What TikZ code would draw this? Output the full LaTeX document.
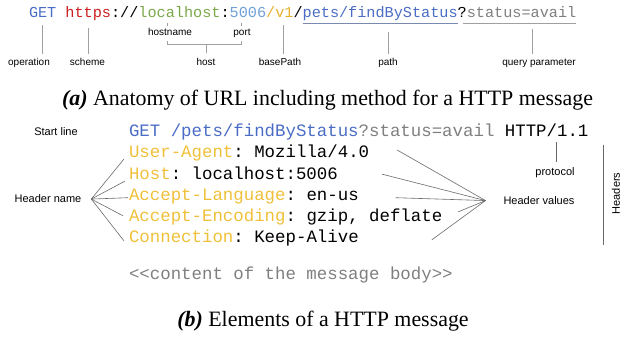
\documentclass[tikz,border=0pt]{standalone}
\usepackage{fontspec}
\setmainfont{Liberation Serif}
\setsansfont{Liberation Sans}
\setmonofont{Liberation Mono}
\definecolor{cblue}{HTML}{4A6CC4}
\definecolor{cred}{HTML}{CC1F1F}
\definecolor{cgreen}{HTML}{7AA84A}
\definecolor{cport}{HTML}{6F9FD8}
\definecolor{cyel}{HTML}{E6B032}
\definecolor{chead}{HTML}{F0C03A}
\definecolor{cgray}{HTML}{7F7F7F}
\definecolor{cline}{HTML}{A0A0A0}
\definecolor{cdark}{HTML}{6A6A6A}
\tikzset{
  url/.style={inner sep=0pt, outer sep=0pt, anchor=base west, font=\fontsize{15.2}{16}\ttfamily},
  msg/.style={inner sep=0pt, outer sep=0pt, anchor=base west, font=\fontsize{17.4}{18}\ttfamily},
  lab/.style={inner sep=0pt, outer sep=0pt, anchor=base, font=\fontsize{10}{12}\sffamily},
  labb/.style={inner sep=0pt, outer sep=0pt, anchor=base, font=\fontsize{11}{13}\sffamily},
  captext/.style={inner sep=0pt, outer sep=0pt, anchor=base, font=\fontsize{21.9}{26}\rmfamily},
  conn/.style={draw=cline, line width=0.8pt},
  hconn/.style={draw=cdark, line width=0.6pt},
}
\begin{document}
\begin{tikzpicture}[x=1pt, y=-1pt]
\useasboundingbox (0,0) rectangle (621,339);
% ---- (a) URL ----
\def\cw{9.12pt}
\node[url, text=cblue] (get) at (29,18) {GET};
\node[url, text=cred] (scheme) at ([xshift=\cw]get.base east) {https};
\node[url] (sep) at (scheme.base east) {://};
\node[url, text=cgreen] (hostname) at (sep.base east) {localhost};
\node[url] (colon) at (hostname.base east) {:};
\node[url, text=cport] (port) at (colon.base east) {5006};
\node[url, text=cyel] (bp) at (port.base east) {/v1};
\node[url] (slash) at (bp.base east) {/};
\node[url, text=cblue] (path) at (slash.base east) {pets/findByStatus};
\node[url] (qm) at (path.base east) {?};
\node[url, text=cgray] (query) at (qm.base east) {status=avail};
% underlines
\draw[draw=cblue!45!cline, line width=1pt] ([yshift=-6pt]path.base west) -- ([yshift=-6pt]path.base east);
\draw[conn, line width=1pt] ([shift={(-4pt,-6pt)}]query.base west) -- ([yshift=-6pt]query.base east);
% labels
\node[lab] (operation) at (29,66) {operation};
\node[lab] (schemel) at (87.5,66) {scheme};
\node[lab] (hostnamel) at (170,36) {hostname};
\node[lab] (portl) at (242,36) {port};
\node[lab] (hostl) at (206,66) {host};
\node[lab] (basepath) at (280,66) {basePath};
\node[lab] (pathl) at (388,66) {path};
\node[lab] (queryl) at (539,66) {query parameter};
% connectors
\draw[conn] (get.south -| 42,0) ++(0,-7pt) coordinate (o1) -- (o1 |- 0,54);
\draw[conn] (scheme.south -| 88,0) ++(0,-7pt) coordinate (s1) -- (s1 |- 0,54);
\draw[conn] (hostname.south -| 167,0) ++(0,-5pt) coordinate (h1) -- (h1 |- 0,26);
\draw[conn] (port.south -| 241,0) ++(0,-5pt) coordinate (p1) -- (p1 |- 0,26);
\draw[conn] (h1 |- 0,41) -- (h1 |- 0,44) -- (p1 |- 0,44) -- (p1 |- 0,41);
\draw[conn] (hostl.north |- 0,44) -- (hostl.north |- 0,53);
\draw[conn] (bp.south -| 283,0) ++(0,-7pt) coordinate (b1) -- (b1 |- 0,54);
\draw[conn] (path.south -| 388,0) ++(0,-11pt) coordinate (pa1) -- (pa1 |- 0,54);
\draw[conn] (query.south -| 532,0) ++(0,-11pt) coordinate (q1) -- (q1 |- 0,54);
\node[captext] (capa) at (327.5,106) {\textbf{\textit{(a)}} Anatomy of URL including method for a HTTP message};
% ---- (b) message ----
\def\mw{10.44pt}
\node[labb] (startl) at (56,136) {Start line};
\node[msg, text=cblue] (sl) at (129,137) {GET /pets/findByStatus};
\node[msg, text=cgray] (slq) at (sl.base east) {?status=avail};
\node[msg] (proto) at ([xshift=\mw]slq.base east) {HTTP/1.1};
\node[msg, text=chead] (hn1) at (129,158) {User-Agent};
\node[msg] (hv1) at (hn1.base east) {: Mozilla/4.0};
\node[msg, text=chead] (hn2) at (129,179.1) {Host};
\node[msg] (hv2) at (hn2.base east) {: localhost:5006};
\node[msg, text=chead] (hn3) at (129,200.2) {Accept-Language};
\node[msg] (hv3) at (hn3.base east) {: en-us};
\node[msg, text=chead] (hn4) at (129,221.3) {Accept-Encoding};
\node[msg] (hv4) at (hn4.base east) {: gzip, deflate};
\node[msg, text=chead] (hn5) at (129,242.4) {Connection};
\node[msg] (hv5) at (hn5.base east) {: Keep-Alive};
\node[msg, text=cgray] (body) at (129,279) {<<content of the message body>>};
% header name
\node[labb] (hname) at (48,203) {Header name};
\coordinate (hnx) at ([xshift=10pt]hname.east);
\draw[hconn] (hnx) -- ([shift={(-5pt,-1pt)}]hn1.base west);
\draw[hconn] (hnx) -- ([shift={(-4pt,-2pt)}]hn2.base west);
\draw[hconn] (hnx) -- ([shift={(-1pt,2.5pt)}]hn3.base west);
\draw[hconn] (hnx) -- ([shift={(-6pt,5.5pt)}]hn4.base west);
\draw[hconn] (hnx) -- ([shift={(-5pt,1.5pt)}]hn5.base west);
% header values
\node[labb] (hval) at (539,204.5) {Header values};
\coordinate (hvx) at ([xshift=-18pt]hval.west);
\draw[hconn] (hvx) -- ([shift={(28pt,8pt)}]hv1.base east);
\draw[hconn] (hvx) -- ([shift={(44pt,5pt)}]hv2.base east);
\draw[hconn] (hvx) -- ([shift={(37pt,2.5pt)}]hv3.base east);
\draw[hconn] (hvx) -- ([shift={(16pt,9.5pt)}]hv4.base east);
\draw[hconn] (hvx) -- ([shift={(73pt,2.5pt)}]hv5.base east);
% protocol
\node[labb] (protol) at (555,175.5) {protocol};
\draw[hconn] (proto.south -| 556,0) ++(0,-5pt) coordinate (pr1) -- (pr1 |- 0,162);
% headers
\node[labb, anchor=center, rotate=90] (headers) at (616,193.5) {Headers};
\coordinate (hd1) at (603,145);
\coordinate (hd2) at (603,245);
\draw[hconn] (hd1) -- (hd2);
\node[captext] (capb) at (323,326) {\textbf{\textit{(b)}} Elements of a HTTP message};
\end{tikzpicture}
\end{document}
